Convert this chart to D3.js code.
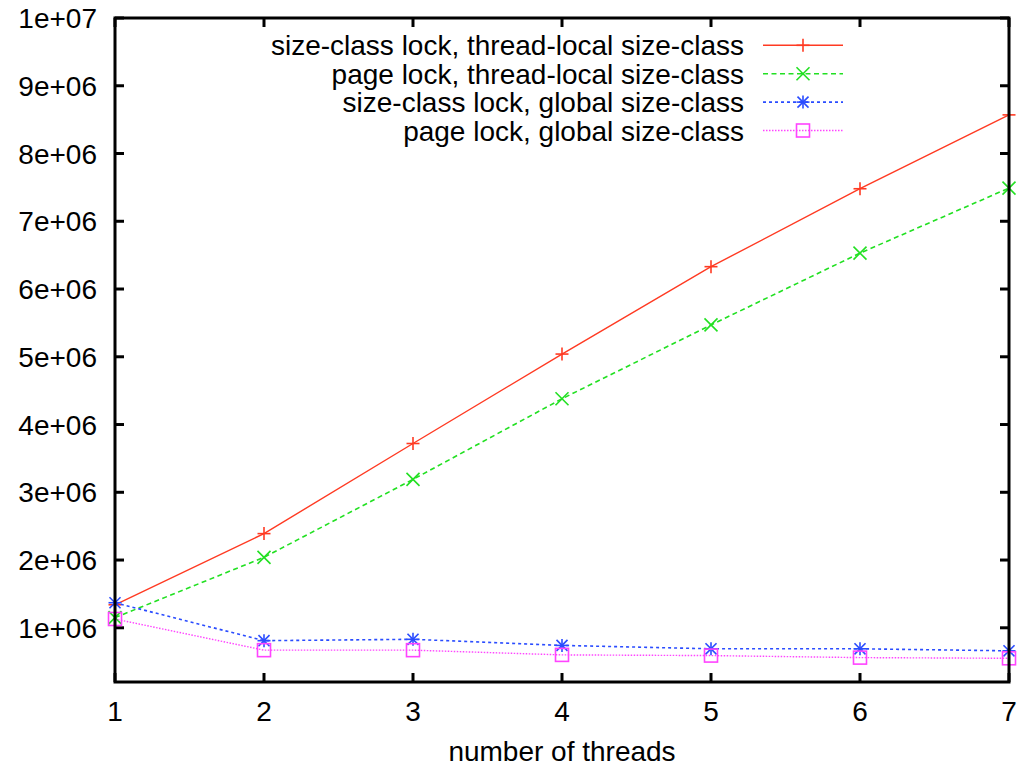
<!DOCTYPE html>
<html>
<head>
<meta charset="utf-8">
<script src="https://cdn.jsdelivr.net/npm/d3@7"></script>
<style>
  html, body { margin: 0; padding: 0; background: #fff; }
  svg { display: block; font-family: "Liberation Sans", Arial, Helvetica, sans-serif; }
</style>
</head>
<body>
<svg id="chart" width="1036" height="767"></svg>
<script>
// Allocator throughput by thread count
const threads = [1, 2, 3, 4, 5, 6, 7];
const sizeClassLockLocal = [1340000, 2390000, 3720000, 5040000, 6330000, 7480000, 8570000];
const pageLockLocal      = [1150000, 2040000, 3190000, 4380000, 5470000, 6530000, 7490000];
const sizeClassLockGlobal = [1370000, 810000, 830000, 740000, 690000, 690000, 660000];
const pageLockGlobal      = [1130000, 670000, 670000, 600000, 590000, 560000, 550000];
const seriesNames = [
  "size-class lock, thread-local size-class",
  "page lock, thread-local size-class",
  "size-class lock, global size-class",
  "page lock, global size-class"
];
const yTicks = [1e6, 2e6, 3e6, 4e6, 5e6, 6e6, 7e6, 8e6, 9e6, 1e7];
const yTickLabels = ["1e+06", "2e+06", "3e+06", "4e+06", "5e+06", "6e+06", "7e+06", "8e+06", "9e+06", "1e+07"];
const xTitle = "number of threads";

const series = [
  { name: seriesNames[0], values: sizeClassLockLocal, color: "#ff3a22", dash: null, width: 1.4, marker: "plus" },
  { name: seriesNames[1], values: pageLockLocal, color: "#22e022", dash: "5,3.5", width: 1.6, marker: "cross" },
  { name: seriesNames[2], values: sizeClassLockGlobal, color: "#2a4cff", dash: "3,3", width: 1.6, marker: "star" },
  { name: seriesNames[3], values: pageLockGlobal, color: "#ff44ff", dash: "1.5,1.5", width: 1.4, marker: "square" }
];

const svg = d3.select("#chart");
const frame = { left: 115, right: 1009, top: 18, bottom: 682 };

const x = d3.scaleLinear().domain([1, 7]).range([frame.left, frame.right]);
const y = d3.scaleLinear().domain([200000, 1e7]).range([frame.bottom, frame.top]);

const fontSize = 28;
const tickLen = 9;

// Ticks pointing inward on all four sides
const axes = svg.append("g").attr("stroke", "#000").attr("stroke-width", 3);
threads.forEach(t => {
  axes.append("line").attr("x1", x(t)).attr("x2", x(t))
    .attr("y1", frame.bottom).attr("y2", frame.bottom - tickLen);
  axes.append("line").attr("x1", x(t)).attr("x2", x(t))
    .attr("y1", frame.top).attr("y2", frame.top + tickLen);
});
yTicks.forEach(v => {
  axes.append("line").attr("x1", frame.left).attr("x2", frame.left + tickLen)
    .attr("y1", y(v)).attr("y2", y(v));
  axes.append("line").attr("x1", frame.right).attr("x2", frame.right - tickLen)
    .attr("y1", y(v)).attr("y2", y(v));
});

// Tick labels
svg.append("g").selectAll("text").data(threads).join("text")
  .attr("x", d => x(d)).attr("y", 721)
  .attr("text-anchor", "middle").attr("font-size", fontSize).attr("fill", "#000")
  .text(d => d);

svg.append("g").selectAll("text").data(yTicks).join("text")
  .attr("x", 97).attr("y", d => y(d) + 10)
  .attr("text-anchor", "end").attr("font-size", fontSize).attr("fill", "#000")
  .text((d, i) => yTickLabels[i]);

svg.append("text").attr("x", (frame.left + frame.right) / 2).attr("y", 761)
  .attr("text-anchor", "middle").attr("font-size", fontSize).attr("fill", "#000")
  .text(xTitle);

// Marker drawing
function drawMarker(g, type, cx, cy, color) {
  const r = 6.5;
  const m = g.append("g").attr("stroke", color).attr("stroke-width", 1.6).attr("fill", "none");
  if (type === "plus" || type === "star") {
    m.append("line").attr("x1", cx - r).attr("x2", cx + r).attr("y1", cy).attr("y2", cy);
    m.append("line").attr("x1", cx).attr("x2", cx).attr("y1", cy - r).attr("y2", cy + r);
  }
  if (type === "cross" || type === "star") {
    const q = type === "star" ? r * 0.85 : r;
    m.append("line").attr("x1", cx - q).attr("x2", cx + q).attr("y1", cy - q).attr("y2", cy + q);
    m.append("line").attr("x1", cx - q).attr("x2", cx + q).attr("y1", cy + q).attr("y2", cy - q);
  }
  if (type === "square") {
    m.append("rect").attr("x", cx - r).attr("y", cy - r).attr("width", 2 * r).attr("height", 2 * r);
  }
}

const line = d3.line().x((d, i) => x(threads[i])).y(d => y(d));

const plot = svg.append("g");
series.forEach(s => {
  plot.append("path").datum(s.values)
    .attr("d", line)
    .attr("fill", "none").attr("stroke", s.color).attr("stroke-width", s.width)
    .attr("stroke-dasharray", s.dash);
  s.values.forEach((v, i) => drawMarker(plot, s.marker, x(threads[i]), y(v), s.color));
});

// Legend
const legend = svg.append("g");
const legendTop = 45.3, legendStep = 28.4;
series.forEach((s, i) => {
  const ly = legendTop + i * legendStep;
  legend.append("text").attr("x", 744).attr("y", ly + 10)
    .attr("text-anchor", "end").attr("font-size", fontSize).attr("fill", "#000")
    .text(s.name);
  legend.append("line").attr("x1", 763).attr("x2", 843).attr("y1", ly).attr("y2", ly)
    .attr("stroke", s.color).attr("stroke-width", s.width).attr("stroke-dasharray", s.dash);
  drawMarker(legend, s.marker, 803, ly, s.color);
});

// Border
svg.append("rect")
  .attr("x", frame.left).attr("y", frame.top)
  .attr("width", frame.right - frame.left).attr("height", frame.bottom - frame.top)
  .attr("fill", "none").attr("stroke", "#000").attr("stroke-width", 3);
</script>
</body>
</html>
